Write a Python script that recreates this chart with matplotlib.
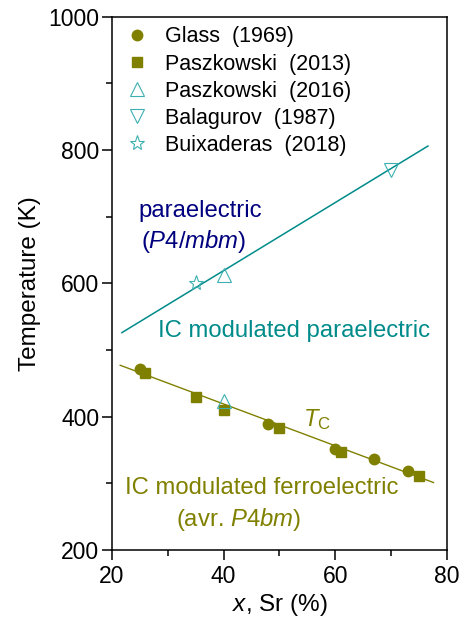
import matplotlib
matplotlib.use("Agg")
import matplotlib.pyplot as plt
from matplotlib.ticker import MultipleLocator

plt.rcParams['font.family'] = ['Liberation Sans', 'DejaVu Sans']
plt.rcParams['mathtext.fontset'] = 'custom'
plt.rcParams['mathtext.rm'] = 'Liberation Sans'
plt.rcParams['mathtext.it'] = 'Liberation Sans:italic'

# data: Sr content (%) and temperature (K)
glass_x = [25, 48, 60, 67, 73]
glass_T = [471, 389, 352, 336, 318]

pasz13_x = [26, 35, 40, 50, 61, 75]
pasz13_T = [465, 430, 410, 383, 347, 311]

pasz16_x = [40, 40]
pasz16_T = [424, 613]

balag_x = [70]
balag_T = [770]

buix_x = [35]
buix_T = [601]

# guide lines (ends)
tc_line_x = [21.5, 77.6]
tc_line_T = [477, 301]
ic_line_x = [21.8, 76.6]
ic_line_T = [526, 806]

olive = '#808000'
teal = '#008b8b'
teal_light = '#3cb0b0'
navy = '#00007f'

fig = plt.figure(figsize=(4.66, 6.22), dpi=100)
ax = fig.add_axes([0.240, 0.116, 0.719, 0.857])

ax.plot(tc_line_x, tc_line_T, color=olive, lw=1.0)
ax.plot(ic_line_x, ic_line_T, color=teal, lw=1.1)

ax.plot(glass_x, glass_T, 'o', color=olive, ms=7.5, mec=olive, label='Glass  (1969)')
ax.plot(pasz13_x, pasz13_T, 's', color=olive, ms=6.5, mec=olive, label='Paszkowski  (2013)')
ax.plot(pasz16_x, pasz16_T, '^', mfc='none', mec=teal_light, ms=10, mew=0.8,
        label='Paszkowski  (2016)')
ax.plot(balag_x, balag_T, 'v', mfc='none', mec=teal_light, ms=10, mew=0.8,
        label='Balagurov  (1987)')
ax.plot(buix_x, buix_T, '*', mfc='none', mec=teal_light, ms=11, mew=0.8,
        label='Buixaderas  (2018)')

ax.set_xlim(20, 80)
ax.set_ylim(200, 1000)
ax.xaxis.set_major_locator(MultipleLocator(20))
ax.xaxis.set_minor_locator(MultipleLocator(10))
ax.yaxis.set_major_locator(MultipleLocator(200))
ax.yaxis.set_minor_locator(MultipleLocator(100))
ax.tick_params(which='both', direction='out', labelsize=16.5, width=1.1)
ax.tick_params(axis='y', pad=2)
ax.tick_params(axis='x', pad=4)
ax.tick_params(which='major', length=7)
ax.tick_params(which='minor', length=4)
for s in ax.spines.values():
    s.set_linewidth(1.1)

ax.set_xlabel('$x$, Sr (%)', fontsize=17.5, labelpad=3)
ax.set_ylabel('Temperature (K)', fontsize=17.5, labelpad=5)

leg = ax.legend(loc='upper left', bbox_to_anchor=(0.0, 1.0), frameon=False, fontsize=15.5,
                handletextpad=0.6, labelspacing=0.28, borderaxespad=0.05, handlelength=1.4)

ax.text(24.7, 708, 'paraelectric', color=navy, fontsize=17.2, va='center')
ax.text(25.2, 663, '($P4/mbm$)', color=navy, fontsize=17.2, va='center')
ax.text(28.3, 528, 'IC modulated paraelectric', color=teal, fontsize=17.2, va='center')
ax.text(54.3, 395, '$T_\\mathrm{C}$', color=olive, fontsize=17.2, va='center')
ax.text(22.4, 293, 'IC modulated ferroelectric', color=olive, fontsize=17.2, va='center')
ax.text(31.5, 245, '(avr. $P4bm$)', color=olive, fontsize=17.2, va='center')

fig.savefig('out.png', dpi=100)
